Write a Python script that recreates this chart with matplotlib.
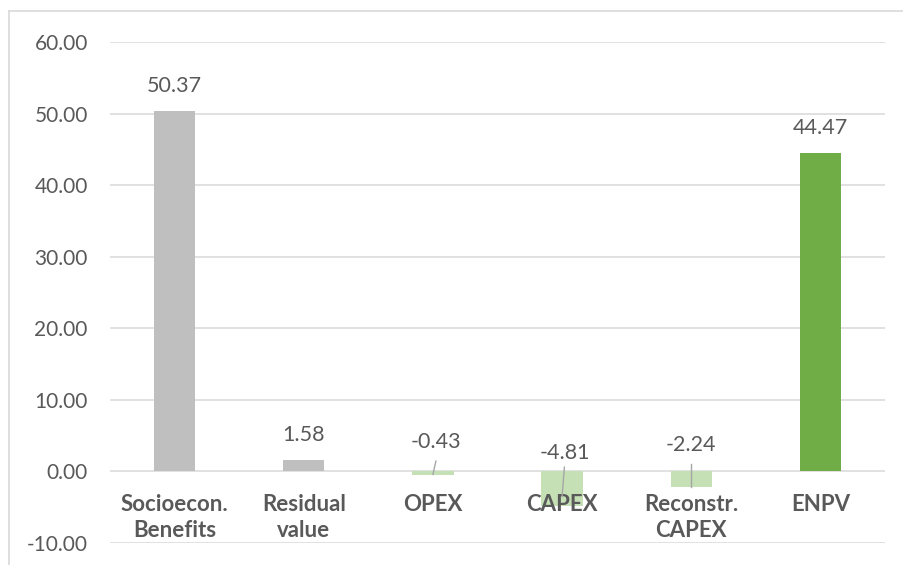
import matplotlib
matplotlib.use("Agg")
import matplotlib.pyplot as plt
from matplotlib.lines import Line2D

categories = ["Socioecon.\nBenefits", "Residual\nvalue", "OPEX", "CAPEX", "Reconstr.\nCAPEX", "ENPV"]
values = [50.37, 1.58, -0.43, -4.81, -2.24, 44.47]
value_labels = ["50.37", "1.58", "-0.43", "-4.81", "-2.24", "44.47"]
yticks = [-10, 0, 10, 20, 30, 40, 50, 60]

# styles
bar_colors = ["#BFBFBF", "#BFBFBF", "#C5E0B4", "#C5E0B4", "#C5E0B4", "#70AD47"]
text_color = "#595959"
grid_color = "#D9D9D9"
# manual label placements for the negative bars (label centre y, leader top y, leader bottom y, x shift) in data units
neg_label_pos = {2: (4.06, 1.44, -0.42, 0.023), 3: (2.52, 0.6, -3.5, 0.018), 4: (3.64, 1.08, -2.2, 0.0)}

plt.rcParams['font.family'] = ['Lato', 'DejaVu Sans']

fig = plt.figure(figsize=(9.04, 5.65), dpi=100)
ax = fig.add_axes([110/904, 1-543/565, (885-110)/904, (543-42)/565])

x = list(range(len(categories)))
ax.bar(x, values, width=0.32, color=bar_colors, zorder=3)
ax.set_xlim(-0.5, len(categories)-0.5)
ax.set_ylim(-10, 60)
ax.set_yticks(yticks)
ax.set_yticklabels([f"{v:.2f}" for v in yticks])
ax.yaxis.grid(True, color=grid_color, linewidth=1.1, zorder=0)
ax.set_axisbelow(True)
ax.tick_params(axis='y', length=0, pad=16, labelsize=15, labelcolor=text_color)
for s in ['top', 'right', 'left', 'bottom']:
    ax.spines[s].set_visible(False)
ax.set_xticks([])

# category labels just below zero line
for i, c in enumerate(categories):
    ax.annotate(c, xy=(i, 0), xytext=(0, -16), textcoords='offset points',
                ha='center', va='top', fontsize=16, fontweight='bold',
                color=text_color, linespacing=1.32)

# value labels
for i, (v, lab) in enumerate(zip(values, value_labels)):
    if v >= 0:
        ax.annotate(lab, xy=(i, v), xytext=(0, 13.5), textcoords='offset points',
                    ha='center', va='baseline', fontsize=15.5, color=text_color)
    else:
        ly, lt, lb, dx = neg_label_pos[i]
        ax.text(i + dx, ly, lab, ha='center', va='center', fontsize=15.5, color=text_color, zorder=5)
        ax.plot([i + dx, i], [lt, lb], color="#A6A6A6", linewidth=1.0, zorder=4)

# chart border (top and left visible)
fig.add_artist(Line2D([9/904, 1.0], [1-11/565, 1-11/565], transform=fig.transFigure, color=grid_color, linewidth=1.2))
fig.add_artist(Line2D([9/904, 9/904], [0, 1-11/565], transform=fig.transFigure, color=grid_color, linewidth=1.2))

fig.savefig("out.png", dpi=100, facecolor="white")
